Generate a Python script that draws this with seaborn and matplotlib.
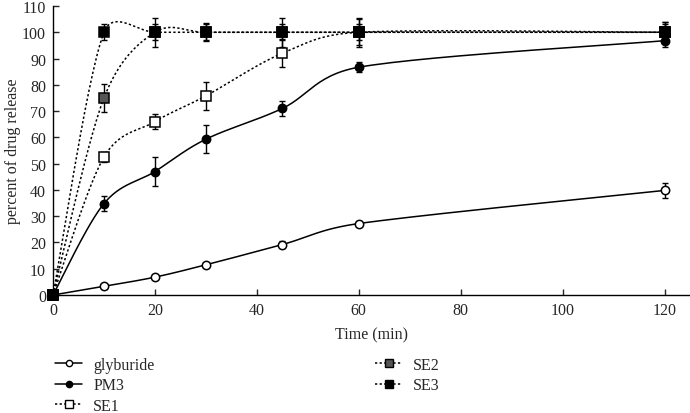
import numpy as np
import matplotlib
matplotlib.use("Agg")
import matplotlib.pyplot as plt
from matplotlib.lines import Line2D
import seaborn as sns

# data
time = [0, 10, 20, 30, 45, 60, 120]
glyburide = [0, 3.3, 6.8, 11.5, 19.2, 27.2, 39.8]
glyburide_err = [0, 0.6, 0.6, 0.8, 1.2, 0.8, 3.0]
pm3 = [0, 34.8, 47.0, 59.3, 71.0, 86.7, 96.8]
pm3_err = [0, 3.0, 5.4, 5.4, 3.0, 2.0, 2.5]
se1 = [0, 52.5, 66.0, 75.8, 92.0, 100.0, 100.0]
se1_err = [0, 2.0, 3.0, 5.4, 5.4, 5.0, 4.0]
se2 = [0, 75.0, 100.0, 100.0, 100.0, 100.0, 100.0]
se2_err = [0, 5.5, 5.5, 3.5, 5.5, 5.5, 4.0]
se3 = [0, 100.0, 100.0, 100.0, 100.0, 100.0, 100.0]
se3_err = [0, 3.0, 3.0, 3.0, 3.0, 3.0, 3.0]

sns.set_style("ticks")
plt.rcParams['font.family'] = ['Liberation Serif', 'DejaVu Serif']
plt.rcParams['xtick.direction'] = 'in'
plt.rcParams['ytick.direction'] = 'in'

W, H = 690, 414
fig = plt.figure(figsize=(W / 100, H / 100), dpi=100)
ax = fig.add_axes([53 / W, 1 - 296 / H, 637 / W, 289 / H])

SX = 612 / 120.0
SY = 289 / 110.0


def ctrl(vec, seg_len):
    # tangent handle, kept shorter than half of the segment
    n = np.hypot(*vec)
    lim = 0.5 * seg_len
    if n > lim and n > 0:
        vec = vec * lim / n
    return vec


def smooth(x, y, n=30):
    # Excel-like smoothed line (Bezier through the points, in pixel space)
    p = np.column_stack([np.asarray(x, float) * SX, np.asarray(y, float) * SY])
    out = [p[0]]
    for i in range(len(p) - 1):
        p0 = p[i - 1] if i > 0 else p[i]
        p3 = p[i + 2] if i + 2 < len(p) else p[i + 1]
        d = np.hypot(*(p[i + 1] - p[i]))
        c1 = p[i] + ctrl((p[i + 1] - p0) / 6.0, d)
        c2 = p[i + 1] - ctrl((p3 - p[i]) / 6.0, d)
        t = np.linspace(0, 1, n)[1:, None]
        seg = ((1 - t) ** 3 * p[i] + 3 * (1 - t) ** 2 * t * c1
               + 3 * (1 - t) * t ** 2 * c2 + t ** 3 * p[i + 1])
        out.extend(seg)
    out = np.array(out)
    return out[:, 0] / SX, out[:, 1] / SY


dot = (0, (1.5, 1.5))
series = [
    ("glyburide", glyburide, glyburide_err, 'o', 'white', '-'),
    ("PM3", pm3, pm3_err, 'o', 'black', '-'),
    ("SE1", se1, se1_err, 's', 'white', dot),
    ("SE2", se2, se2_err, 's', '#555555', dot),
    ("SE3", se3, se3_err, 's', 'black', dot),
]

handles = []
for name, vals, err, mk, fc, ls in series:
    sx, sy = smooth(time, vals)
    ax.plot(sx, sy, color='black', lw=1.1, linestyle=ls, zorder=2,
            clip_on=False)
    ax.errorbar(time, vals, yerr=err, fmt='none', ecolor='black',
                elinewidth=1, capsize=2.5, capthick=1, zorder=3)
    ms = 6 if mk == 'o' else 7
    ax.plot(time, vals, linestyle='none', marker=mk, markersize=ms,
            markerfacecolor=fc, markeredgecolor='black', markeredgewidth=1.1,
            zorder=4, clip_on=False)
    handles.append(Line2D([], [], color='black', lw=1.1, linestyle=ls,
                          marker=mk, markersize=ms - 1.5, markerfacecolor=fc,
                          markeredgecolor='black', label=name))

ax.set_xlim(0, 125)
ax.set_ylim(0, 110)
ax.set_xticks(range(0, 121, 20))
ax.set_yticks(range(0, 111, 10))
ax.tick_params(labelsize=11.5, length=4, width=1, pad=5)
ax.set_xlabel("Time (min)", fontsize=11.5, labelpad=6)
ax.set_ylabel("percent of drug release", fontsize=11.5, labelpad=1)
for s in ['top', 'right']:
    ax.spines[s].set_visible(False)
for s in ['left', 'bottom']:
    ax.spines[s].set_linewidth(1)
    ax.spines[s].set_color('black')

fig.legend(handles=handles, ncol=2, loc='upper left',
           bbox_to_anchor=(55 / W, 1 - 358 / H), frameon=False,
           fontsize=11.5, handlelength=1.7, columnspacing=13.8,
           labelspacing=0.28, handletextpad=0.7, borderpad=0,
           borderaxespad=0)

fig.savefig("out.png", dpi=100)
